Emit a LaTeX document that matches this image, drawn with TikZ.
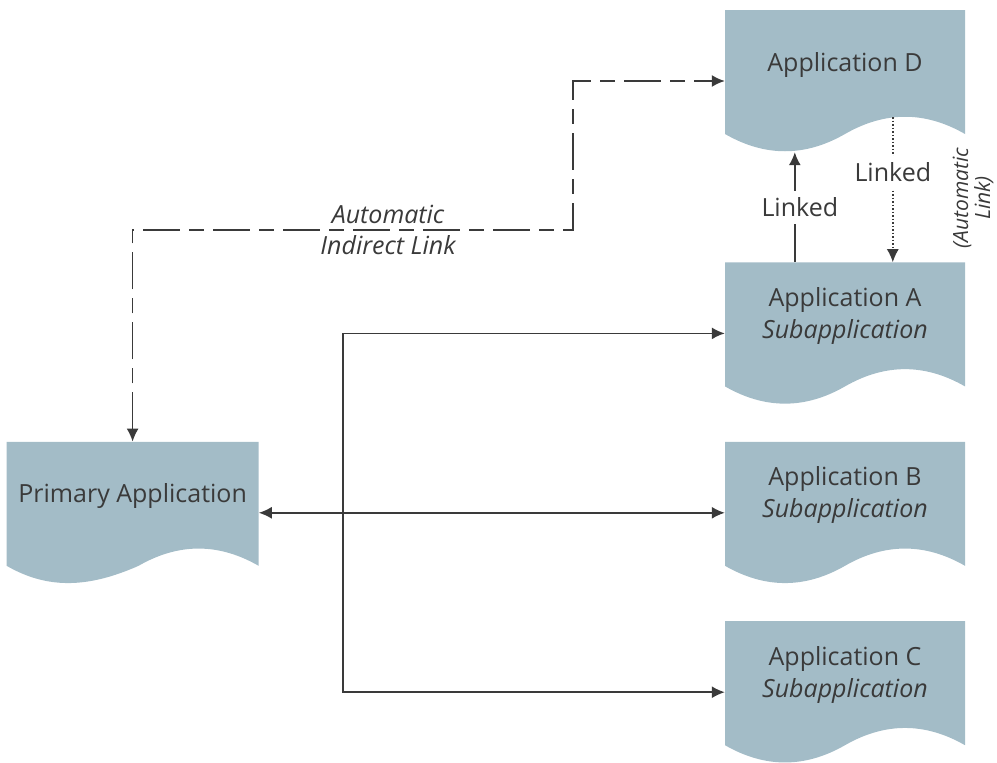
\documentclass[tikz,border=0pt]{standalone}
\usepackage{fontspec}
\setmainfont{Open Sans}
\usetikzlibrary{arrows.meta,positioning,calc}
\definecolor{docblue}{HTML}{A3BCC7}
\definecolor{inkgray}{HTML}{3A3A3A}

\begin{document}
\begin{tikzpicture}[x=1pt,y=-1pt,>={Latex[length=13pt,width=12pt]},
  appdoc/.style={minimum width=240pt,minimum height=142pt,inner sep=0pt,align=center,
    text height=20pt,text depth=40pt,text=inkgray,font=\fontsize{25}{32}\selectfont,
    path picture={\fill[docblue] (path picture bounding box.north west) -- (path picture bounding box.north east)
      -- ([yshift=18pt]path picture bounding box.south east)
      .. controls ([xshift=-40pt,yshift=41pt]path picture bounding box.south east) and ([xshift=-80pt,yshift=41pt]path picture bounding box.south east) .. ([xshift=-120pt,yshift=18pt]path picture bounding box.south east)
      .. controls ([xshift=80pt,yshift=-5pt]path picture bounding box.south west) and ([xshift=40pt,yshift=-5pt]path picture bounding box.south west) .. ([yshift=18pt]path picture bounding box.south west) -- cycle;}},
  subapp/.style={appdoc,text depth=10pt},
  link/.style={draw=inkgray,line width=1.6pt},
  dashlink/.style={link,dash pattern=on 37pt off 9pt on 15pt off 9pt},
  dotlink/.style={link,line width=1.4pt,dash pattern=on 1.5pt off 2pt},
  lab/.style={fill=white,inner sep=7pt,text=inkgray,font=\fontsize{25}{32}\selectfont}]
\useasboundingbox (0,0) rectangle (997,763);
\node (appD) [appdoc] at (845,81) {Application D};
\node (appA) [subapp,below=110pt of appD] {Application A\\\textit{Subapplication}};
\node (appB) [subapp,below=37pt of appA] {Application B\\\textit{Subapplication}};
\node (appC) [subapp,below=37pt of appB] {Application C\\\textit{Subapplication}};
\node (prim) [appdoc,minimum width=252pt,left=466pt of appB] {Primary Application};
\coordinate (bus) at (343,512);
\coordinate (kink) at (573,230);
\draw[link,<->] (prim) -- (appB);
\draw[link,<->] (appA) -- (bus |- appA) -- (bus |- appC) -- (appC);
\draw[dashlink,<->] (prim) |- node[pos=0.79,align=center,text=inkgray,font=\fontsize{25}{31}\selectfont\itshape]{Automatic\\Indirect Link} (kink) |- (appD);
\draw[link,->] ([xshift=70pt]appA.north west) -- node[lab,xshift=5pt]{Linked} ([xshift=70pt]appD.south west);
\draw[dotlink,->] ([xshift=168pt,yshift=35pt]appD.south west) -- node[lab,pos=0.38]{Linked} ([xshift=168pt]appA.north west);
\node (autolab) [rotate=90,align=center,inner sep=1pt,text=inkgray,font=\fontsize{21}{22}\selectfont\itshape] at (973,198) {(Automatic\\Link)};
\end{tikzpicture}
\end{document}
